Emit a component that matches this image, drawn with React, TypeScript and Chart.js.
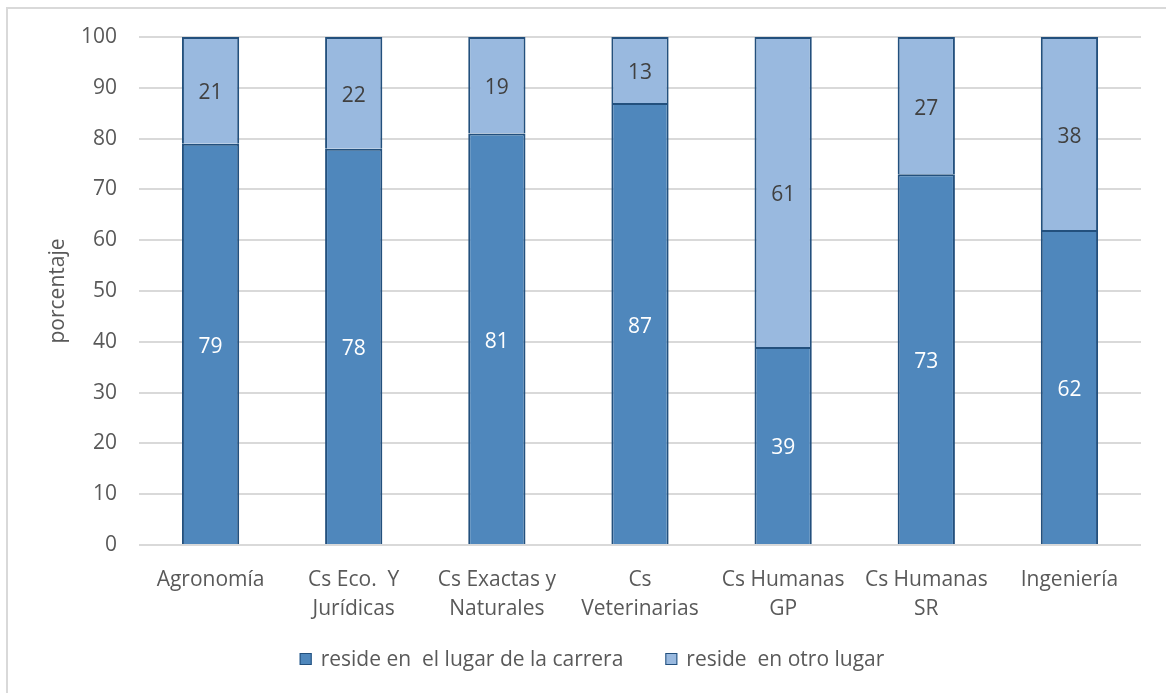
import React, { useEffect, useRef } from "react";
import { Chart, registerables } from "chart.js";

Chart.register(...registerables);

const categories: string[][] = [
  ["Agronomía"],
  ["Cs Eco.  Y", "Jurídicas"],
  ["Cs Exactas y", "Naturales"],
  ["Cs", "Veterinarias"],
  ["Cs Humanas", "GP"],
  ["Cs Humanas", "SR"],
  ["Ingeniería"],
];
const resideLugarCarrera = [79, 78, 81, 87, 39, 73, 62];
const resideOtroLugar = [21, 22, 19, 13, 61, 27, 38];
const seriesLabels = ["reside en  el lugar de la carrera", "reside  en otro lugar"];
const yAxisTitle = "porcentaje";
const yMin = 0;
const yMax = 100;
const yStep = 10;

const FONT = "'Open Sans', sans-serif";
const FS = 21;
const DARK = "#4f87bc";
const LIGHT = "#99b9df";
const EDGE = "#23507d";
const labelColors = ["#ffffff", "#404040"];

const frameAndLabels = {
  id: "frameAndLabels",
  beforeDraw(chart: any) {
    const ctx = chart.ctx;
    ctx.save();
    ctx.strokeStyle = "#d9d9d9";
    ctx.lineWidth = 2;
    ctx.beginPath();
    ctx.moveTo(7, chart.height);
    ctx.lineTo(7, 8);
    ctx.lineTo(chart.width, 8);
    ctx.stroke();
    ctx.restore();
  },
  afterDatasetsDraw(chart: any) {
    const ctx = chart.ctx;
    ctx.save();
    ctx.font = `${FS}px ${FONT}`;
    ctx.textAlign = "center";
    ctx.textBaseline = "middle";
    chart.data.datasets.forEach((ds: any, di: number) => {
      const meta = chart.getDatasetMeta(di);
      ctx.fillStyle = labelColors[di];
      meta.data.forEach((el: any, i: number) => {
        const v = ds.data[i];
        ctx.fillText(String(v), el.x, (el.y + el.base) / 2 + 3);
      });
    });
    ctx.restore();
  },
  afterDraw(chart: any) {
    const ctx = chart.ctx;
    ctx.save();
    ctx.font = `${FS}px ${FONT}`;
    ctx.textBaseline = "middle";
    ctx.textAlign = "left";
    const box = 12;
    const gapText = 9;
    const gapItem = 42;
    const items = chart.data.datasets.map((ds: any) => ({
      text: ds.label,
      color: ds.backgroundColor,
      w: ctx.measureText(ds.label).width,
    }));
    const total = items.reduce((s: number, it: any) => s + box + gapText + it.w, 0) + gapItem * (items.length - 1);
    let x = 592 - total / 2;
    const cy = 659;
    items.forEach((it: any) => {
      ctx.fillStyle = it.color;
      ctx.fillRect(x, cy - box / 2, box, box);
      ctx.strokeStyle = EDGE;
      ctx.lineWidth = 1;
      ctx.strokeRect(x + 0.5, cy - box / 2 + 0.5, box - 1, box - 1);
      ctx.fillStyle = "#595959";
      ctx.fillText(it.text, x + box + gapText, cy + 1);
      x += box + gapText + it.w + gapItem;
    });
    ctx.restore();
  },
};

export default function App() {
  const ref = useRef<HTMLCanvasElement>(null);
  useEffect(() => {
    if (!ref.current) return;
    const chart = new Chart(ref.current, {
      type: "bar",
      data: {
        labels: categories as any,
        datasets: [
          {
            label: seriesLabels[0],
            data: resideLugarCarrera,
            backgroundColor: DARK,
            borderColor: EDGE,
            borderWidth: 2,
            barPercentage: 0.4,
            categoryPercentage: 1,
          },
          {
            label: seriesLabels[1],
            data: resideOtroLugar,
            backgroundColor: LIGHT,
            borderColor: EDGE,
            borderWidth: 2,
            barPercentage: 0.4,
            categoryPercentage: 1,
          },
        ],
      },
      options: {
        responsive: false,
        animation: false,
        devicePixelRatio: 1,
        layout: { padding: { left: 0, right: 25, top: 37, bottom: 60 } },
        plugins: {
          legend: { display: false },
          tooltip: { enabled: false },
        },
        scales: {
          x: {
            stacked: true,
            grid: { display: false },
            border: { display: false },
            ticks: {
              color: "#595959",
              font: { family: FONT, size: FS, lineHeight: 1.38 },
              padding: 13,
              maxRotation: 0,
              minRotation: 0,
              autoSkip: false,
            },
            afterFit(scale: any) {
              scale.height = 88;
            },
          },
          y: {
            stacked: true,
            min: yMin,
            max: yMax,
            grid: { color: "#d9d9d9", lineWidth: 2, drawTicks: false },
            border: { display: false },
            ticks: {
              stepSize: yStep,
              color: "#595959",
              font: { family: FONT, size: FS },
              padding: 22,
            },
            title: {
              display: true,
              text: yAxisTitle,
              color: "#595959",
              font: { family: FONT, size: FS, lineHeight: 1.2 },
              padding: { top: 45, bottom: 0 },
            },
            afterFit(scale: any) {
              scale.width = 139;
            },
          },
        },
      },
      plugins: [frameAndLabels],
    });
    return () => chart.destroy();
  }, []);
  return (
    <div style={{ position: "fixed", left: 0, top: 0, width: 1166, height: 693, background: "#fff" }}>
      <canvas ref={ref} width={1166} height={693} style={{ display: "block" }} />
    </div>
  );
}
